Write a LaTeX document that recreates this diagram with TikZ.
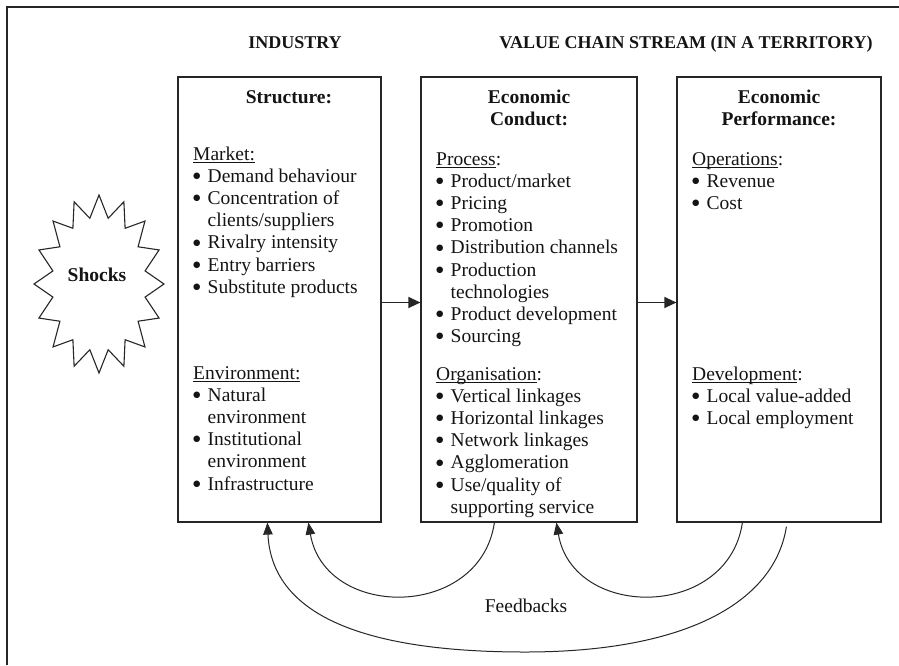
\documentclass[tikz,border=0pt]{standalone}
\usepackage{fontspec}
\setmainfont{Liberation Serif}
\newfontfamily\bulfont{DejaVu Sans}
\usetikzlibrary{arrows.meta}

% bullet item and continuation line inside the lists
\newcommand\bul{\makebox[14.5pt][l]{\raisebox{3.8pt}{\bulfont\fontsize{8.5}{8.5}\selectfont ●}}}
\newcommand\cont{\hspace*{14.5pt}}
\newcommand\listbox[1]{\parbox[t]{190pt}{\raggedright #1}}
% close underline, just below the baseline
\newcommand\ulin[1]{\leavevmode\setbox0\hbox{#1}\rlap{\rule[-2.4pt]{\wd0}{0.9pt}}\box0}

\begin{document}
\begin{tikzpicture}[x=1pt,y=-1pt,
  font=\fontsize{19.5}{22.2}\selectfont,
  every node/.style={text=black!92},
  frame/.style={draw=black!85, line width=1.2pt},
  panel/.style={draw=black!85, line width=1.2pt, inner sep=0pt, minimum height=445pt},
  head/.style={font=\fontsize{18}{21}\selectfont\bfseries, anchor=base, inner sep=0pt},
  title/.style={font=\fontsize{19.5}{22.2}\selectfont\bfseries, anchor=base, inner sep=0pt},
  body/.style={anchor=base west, inner sep=0pt},
  flow/.style={draw=black!85, line width=1.3pt, -{Triangle[length=12pt,width=11pt]}},
  loop/.style={draw=black!85, line width=1pt, -{Triangle[length=12pt,width=9.5pt]}}
]
\useasboundingbox (0,0) rectangle (899,665);

% outer frame (top and left edges)
\draw[frame] (7,665) -- (7,7) -- (899,7);

% column headings
\node[head] (industry) at (295,48.5) {INDUSTRY};
\node[head] (valuechain) at (686,48.5) {VALUE CHAIN STREAM (IN A TERRITORY)};

% the three panels
\node[panel, minimum width=203pt] (structure) at (279.5,299.5) {};
\node[panel, minimum width=216pt] (conduct) at (529,299.5) {};
\node[panel, minimum width=204pt] (perf) at (779,299.5) {};

% Structure panel
\node[title] (stitle) at (289,103) {Structure:};
\node[body] (market) at (193,160) {\listbox{%
  \ulin{Market:}\\
  \bul Demand behaviour\\
  \bul Concentration of\\
  \cont clients/suppliers\\
  \bul Rivalry intensity\\
  \bul Entry barriers\\
  \bul Substitute products}};
\node[body] (environment) at (193,379) {\listbox{%
  \ulin{Environment:}\\
  \bul Natural\\
  \cont environment\\
  \bul Institutional\\
  \cont environment\\
  \bul Infrastructure}};

% Conduct panel
\node[title] (ctitle) at (529,103) {\parbox[t]{200pt}{\centering Economic\\Conduct:}};
\node[body] (process) at (436,165) {\listbox{%
  \ulin{Process}:\\
  \bul Product/market\\
  \bul Pricing\\
  \bul Promotion\\
  \bul Distribution channels\\
  \bul Production\\
  \cont technologies\\
  \bul Product development\\
  \bul Sourcing}};
\node[body] (organisation) at (436,380) {\listbox{%
  \ulin{Organisation}:\\
  \bul Vertical linkages\\
  \bul Horizontal linkages\\
  \bul Network linkages\\
  \bul Agglomeration\\
  \bul Use/quality of\\
  \cont supporting service}};

% Performance panel
\node[title] (ptitle) at (779,103) {\parbox[t]{200pt}{\centering Economic\\Performance:}};
\node[body] (operations) at (692,165) {\listbox{%
  \ulin{Operations}:\\
  \bul Revenue\\
  \bul Cost}};
\node[body] (development) at (692,380) {\listbox{%
  \ulin{Development}:\\
  \bul Local value-added\\
  \bul Local employment}};

% shocks burst
\node[title] (shocks) at (97,281) {Shocks};
\draw[draw=black!85, line width=1.1pt, line join=miter]
  (164,284) \foreach \i in {1,...,31}{
    -- ({99+(65-18*mod(\i,2))*cos(\i*11.25)}, {284-(89-22*mod(\i,2))*sin(\i*11.25)})
  } -- cycle;

% forward flow
\draw[flow] ([yshift=-3pt]structure.east) -- ([yshift=-3pt]conduct.west);
\draw[flow] ([yshift=-3pt]conduct.east) -- ([yshift=-3pt]perf.west);

% feedback loops
\draw[loop] ([xshift=74pt]conduct.south west)
  .. controls (480,620) and (325,620) .. ([xshift=131pt]structure.south west);
\draw[loop] ([xshift=66pt]perf.south west)
  .. controls (728,620) and (573,620) .. ([xshift=136pt]conduct.south west);
\draw[loop] ([xshift=110pt,yshift=-4pt]perf.south west)
  .. controls (775,600) and (690,652) .. (525,652)
  .. controls (375,652) and (272,620) .. ([xshift=90pt]structure.south west);

\node[anchor=base, inner sep=0pt] (feedbacks) at (526,612) {Feedbacks};
\end{tikzpicture}
\end{document}
